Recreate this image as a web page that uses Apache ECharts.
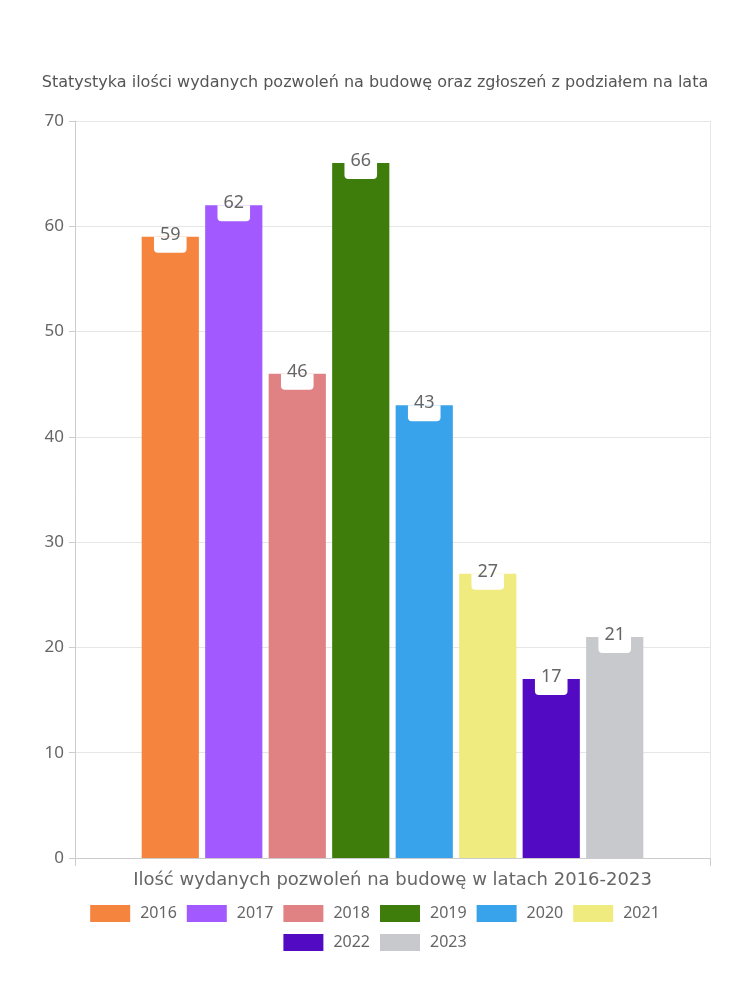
<!DOCTYPE html>
<html>
<head>
<meta charset="utf-8">
<script src="https://cdn.jsdelivr.net/npm/echarts@6/dist/echarts.min.js"></script>
<style>html,body{margin:0;padding:0;background:#fff;}#c{width:750px;height:1000px;}</style>
</head>
<body>
<div id="c"></div>
<script>
const titleText = 'Statystyka ilości wydanych pozwoleń na budowę oraz zgłoszeń z podziałem na lata';
const categories = ['Ilość wydanych pozwoleń na budowę w latach 2016-2023'];
const years = ['2016', '2017', '2018', '2019', '2020', '2021', '2022', '2023'];
const values = [59, 62, 46, 66, 43, 27, 17, 21];
const colors = ['#F5843F', '#A259FF', '#E08283', '#3E7D0B', '#38A3EA', '#F0EB7E', '#520BC2', '#C8C9CD'];
const yTicks = { min: 0, max: 70, interval: 10 };
const legendRow1 = years.slice(0, 6);
const legendRow2 = years.slice(6);

const FONT = 'Noto Sans';
const WIDE = 'DejaVu Sans';
const chart = echarts.init(document.getElementById('c'), null, { renderer: 'canvas' });
const series = years.map((y, i) => ({
  name: y,
  type: 'bar',
  data: [values[i]],
  barGap: '11%',
  barCategoryGap: '21%',
  itemStyle: { color: colors[i] },
  label: {
    show: true,
    position: 'insideTop',
    distance: 0,
    color: '#666',
    fontFamily: FONT,
    fontSize: 18,
    lineHeight: 16,
    backgroundColor: '#fff',
    borderRadius: [0, 0, 4, 4],
    padding: [-10, 6, 10, 6]
  }
}));
const legendCommon = {
  left: 'center',
  itemWidth: 40,
  itemHeight: 17,
  itemGap: 10,
  icon: 'rect',
  itemStyle: { borderWidth: 0 },
  textStyle: { fontFamily: FONT, fontSize: 16, color: '#666', padding: [0, 0, 0, 5] }
};
chart.setOption({
  animation: false,
  textStyle: { fontFamily: FONT },
  title: {
    text: titleText,
    left: 'center',
    top: 70,
    textStyle: { fontFamily: WIDE, fontSize: 16, fontWeight: 'normal', color: '#555' }
  },
  grid: { left: 75, right: 40, top: 121, bottom: 142, containLabel: false },
  legend: [
    Object.assign({ data: legendRow1, top: 900 }, legendCommon),
    Object.assign({ data: legendRow2, top: 929 }, legendCommon)
  ],
  xAxis: {
    type: 'category',
    data: categories,
    axisLine: { show: true, lineStyle: { color: '#ccc' } },
    axisTick: { show: true, length: 8, lineStyle: { color: '#ccc' } },
    axisLabel: { fontFamily: WIDE, fontSize: 18, color: '#666', margin: 13 },
    splitLine: { show: true, lineStyle: { color: '#e6e6e6' } }
  },
  yAxis: {
    type: 'value',
    min: yTicks.min,
    max: yTicks.max,
    interval: yTicks.interval,
    axisLine: { show: true, lineStyle: { color: '#ccc' } },
    axisTick: { show: true, length: 6, lineStyle: { color: '#ccc' } },
    axisLabel: { fontFamily: FONT, fontSize: 17, color: '#666', margin: 11 },
    splitLine: { show: true, lineStyle: { color: '#e6e6e6' } }
  },
  series: series
});
</script>
</body>
</html>
